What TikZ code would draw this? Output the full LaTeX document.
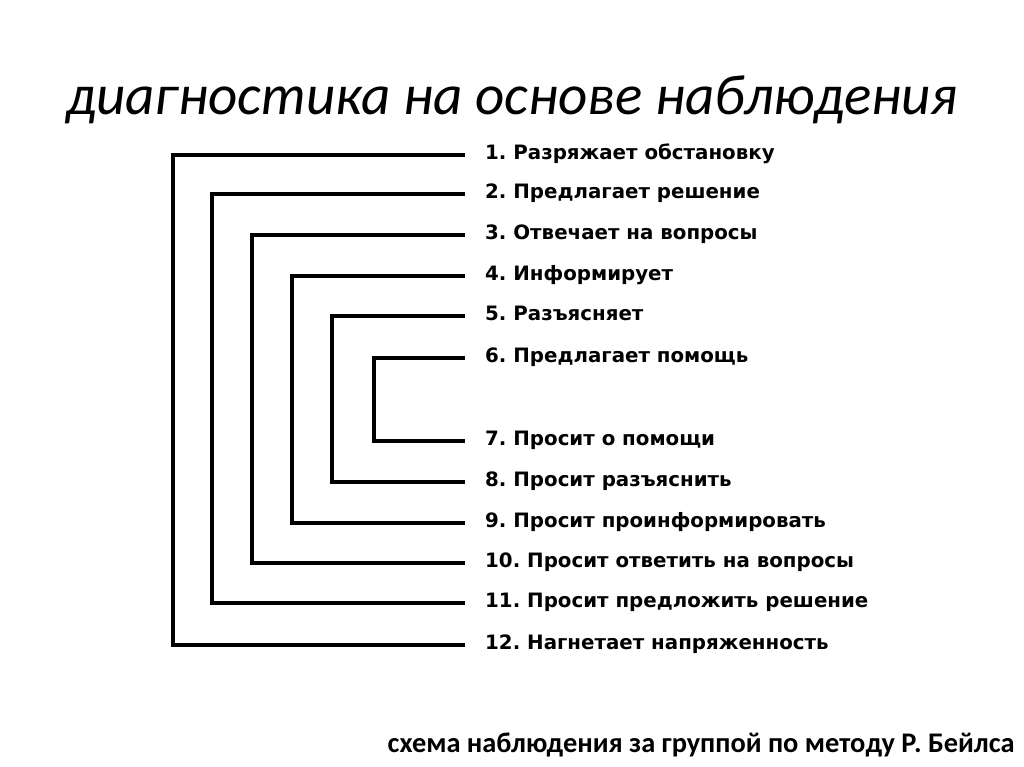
\documentclass[tikz,border=0pt]{standalone}
\usepackage{fontspec}
\setmainfont{Carlito}
\newfontfamily\lblfont{DejaVu Sans}
\begin{document}
\frenchspacing
\begin{tikzpicture}[x=1pt,y=-1pt,
  lbl/.style={anchor=west,inner sep=0pt,font=\lblfont\bfseries\fontsize{19.8}{19.8}\selectfont,text height=0.9em,text depth=0pt},
  bracket/.style={line width=3.2pt,line cap=rect,line join=miter}]
\useasboundingbox (0,0) rectangle (1024,767);
\node[font=\itshape\fontsize{57}{57}\selectfont] (title) at (512,100) {диагностика на основе наблюдения};
\foreach \i/\y/\t in {1/155/{1. Разряжает обстановку},2/194/{2. Предлагает решение},3/235/{3. Отвечает на вопросы},4/276/{4. Информирует},5/316/{5. Разъясняет},6/358/{6. Предлагает помощь},7/441/{7. Просит о помощи},8/482/{8. Просит разъяснить},9/523/{9. Просит проинформировать},10/563/{10. Просит ответить на вопросы},11/603/{11. Просит предложить решение},12/645/{12. Нагнетает напряженность}}
  \node[lbl] (l\i) at (485,\y) {\t};
\draw[bracket] ([xshift=-22pt]l1.west) -- ++(-290,0) |- ([xshift=-22pt]l12.west);
\draw[bracket] ([xshift=-22pt]l2.west) -- ++(-251,0) |- ([xshift=-22pt]l11.west);
\draw[bracket] ([xshift=-22pt]l3.west) -- ++(-211,0) |- ([xshift=-22pt]l10.west);
\draw[bracket] ([xshift=-22pt]l4.west) -- ++(-171,0) |- ([xshift=-22pt]l9.west);
\draw[bracket] ([xshift=-22pt]l5.west) -- ++(-131,0) |- ([xshift=-22pt]l8.west);
\draw[bracket] ([xshift=-22pt]l6.west) -- ++(-89,0) |- ([xshift=-22pt]l7.west);
\node[anchor=east,inner sep=0pt,font=\bfseries\fontsize{28.4}{28.4}\selectfont] (cap) at (1015,745) {схема наблюдения за группой по методу Р. Бейлса};
\end{tikzpicture}
\end{document}
